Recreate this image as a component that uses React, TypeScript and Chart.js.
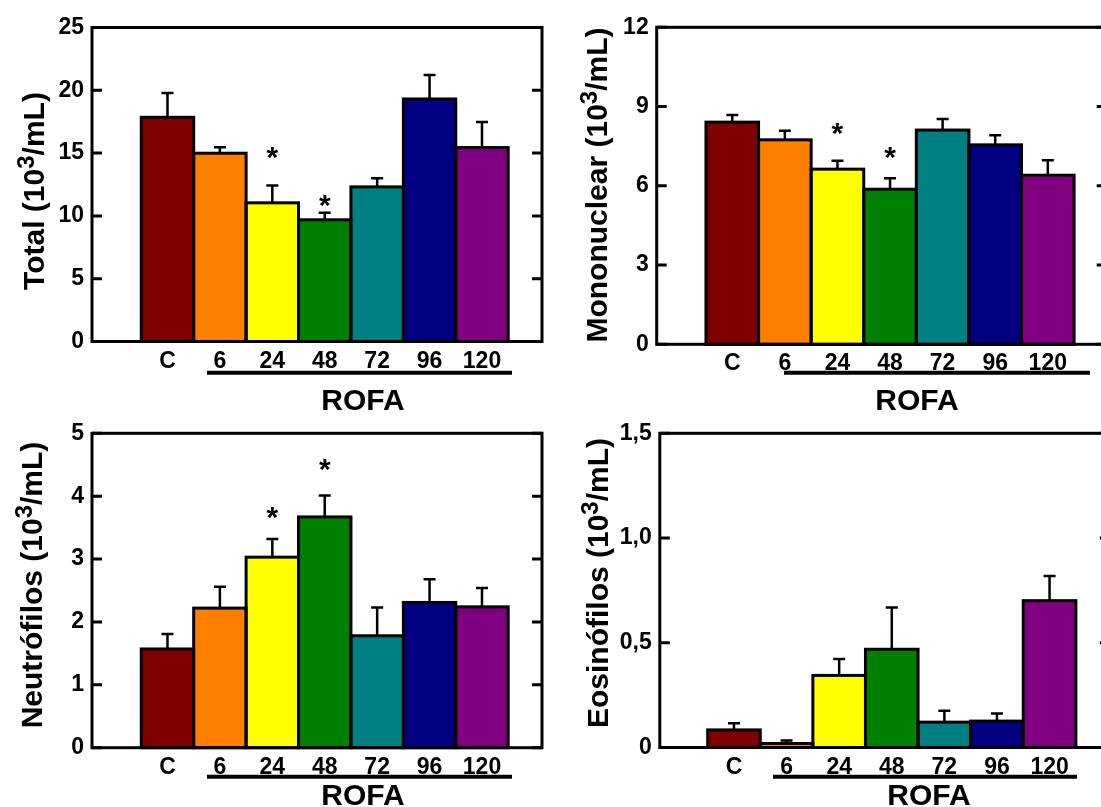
import React, { useEffect, useRef } from 'react';
import { Chart, registerables } from 'chart.js';

Chart.register(...registerables);

const FONT = '"Liberation Sans", Arial, Helvetica, sans-serif';

// ---------- data ----------
const categories = ['C', '6', '24', '48', '72', '96', '120'];
const barColors = ['#800000', '#FF8000', '#FFFF00', '#008000', '#008080', '#000080', '#800080'];
const groupLabel = 'ROFA';

const totalValues = [17.85, 14.99, 11.04, 9.69, 12.31, 19.31, 15.44];
const totalErrors = [1.93, 0.48, 1.38, 0.56, 0.69, 1.9, 2.04];
const totalStars = [null, null, 15.25, 11.45, null, null, null];
const totalTickLabels = ['0', '5', '10', '15', '20', '25'];

const monoValues = [8.41, 7.74, 6.63, 5.87, 8.11, 7.55, 6.4];
const monoErrors = [0.27, 0.34, 0.32, 0.42, 0.42, 0.36, 0.57];
const monoStars = [null, null, 8.26, 7.35, null, null, null];
const monoTickLabels = ['0', '3', '6', '9', '12'];

const neutroValues = [1.57, 2.22, 3.03, 3.67, 1.78, 2.31, 2.24];
const neutroErrors = [0.24, 0.34, 0.29, 0.34, 0.45, 0.37, 0.3];
const neutroStars = [null, null, 3.78, 4.55, null, null, null];
const neutroTickLabels = ['0', '1', '2', '3', '4', '5'];

const eosValues = [0.084, 0.019, 0.344, 0.469, 0.121, 0.126, 0.701];
const eosErrors = [0.032, 0.014, 0.079, 0.199, 0.054, 0.036, 0.118];
const eosStars = [null, null, null, null, null, null, null];
const eosTickLabels = ['0', '0,5', '1,0', '1,5'];

// ---------- layout ----------
type PanelCfg = {
  left: number; top: number; width: number; height: number;
  area: { left: number; top: number; right: number; bottom: number };
  xMin: number; xMax: number;
  yMax: number; yStep: number;
  values: number[]; errors: number[]; stars: (number | null)[]; tickLabels: string[];
  title: [string, string, string];
  titleX: number; titleY: number;
  underline: [number, number]; underlineY: number;
  groupX: number; groupY: number;
};

const panels: PanelCfg[] = [
  {
    left: 0, top: 0, width: 550, height: 410,
    area: { left: 92, top: 27.5, right: 542, bottom: 341.5 },
    xMin: -0.44, xMax: 8.145, yMax: 25, yStep: 5,
    values: totalValues, errors: totalErrors, stars: totalStars, tickLabels: totalTickLabels,
    title: ['Total (10', '3', '/mL)'], titleX: 33, titleY: 191,
    underline: [207, 512], underlineY: 372.7, groupX: 363, groupY: 399,
  },
  {
    left: 560, top: 0, width: 560, height: 410,
    area: { left: 96.7, top: 27.3, right: 546.7, bottom: 344.3 },
    xMin: -0.437, xMax: 8.12, yMax: 12, yStep: 3,
    values: monoValues, errors: monoErrors, stars: monoStars, tickLabels: monoTickLabels,
    title: ['Mononuclear (10', '3', '/mL)'], titleX: 36.5, titleY: 185,
    underline: [224, 530], underlineY: 372.7, groupX: 357, groupY: 399,
  },
  {
    left: 0, top: 410, width: 550, height: 397,
    area: { left: 92, top: 23.3, right: 542, bottom: 337.7 },
    xMin: -0.44, xMax: 8.145, yMax: 5, yStep: 1,
    values: neutroValues, errors: neutroErrors, stars: neutroStars, tickLabels: neutroTickLabels,
    title: ['Neutrófilos (10', '3', '/mL)'], titleX: 31, titleY: 175,
    underline: [207, 512], underlineY: 366.7, groupX: 363, groupY: 384,
  },
  {
    left: 560, top: 410, width: 560, height: 397,
    area: { left: 99.8, top: 23.3, right: 549.8, bottom: 337.5 },
    xMin: -0.41, xMax: 8.145, yMax: 1.5, yStep: 0.5,
    values: eosValues, errors: eosErrors, stars: eosStars, tickLabels: eosTickLabels,
    title: ['Eosinófilos (10', '3', '/mL)'], titleX: 37.4, titleY: 173,
    underline: [213, 517], underlineY: 366.7, groupX: 369, groupY: 384,
  },
];

const decoPlugin = {
  id: 'deco',
  afterDatasetsDraw(chart: any, _args: any, opts: any) {
    const ctx = chart.ctx;
    const meta = chart.getDatasetMeta(0);
    const ys = chart.scales.y;
    const values: number[] = opts.values;
    ctx.save();
    ctx.strokeStyle = '#000';
    ctx.lineWidth = 3;
    meta.data.forEach((el: any) => {
      const p = el.getProps(['x', 'y', 'base', 'width'], true);
      ctx.strokeRect(p.x - p.width / 2, p.y, p.width, p.base - p.y);
    });
    ctx.lineWidth = 2.5;
    meta.data.forEach((el: any, i: number) => {
      const p = el.getProps(['x', 'y'], true);
      const top = ys.getPixelForValue(values[i] + opts.errors[i]);
      ctx.beginPath();
      ctx.moveTo(p.x, p.y);
      ctx.lineTo(p.x, top);
      ctx.moveTo(p.x - 6, top);
      ctx.lineTo(p.x + 6, top);
      ctx.stroke();
    });
    ctx.fillStyle = '#000';
    ctx.font = `bold 30px ${FONT}`;
    ctx.textAlign = 'center';
    ctx.textBaseline = 'alphabetic';
    opts.stars.forEach((s: number | null, i: number) => {
      if (s == null) return;
      const x = meta.data[i].x;
      const yy = ys.getPixelForValue(s);
      ctx.fillText('*', x, yy + 17);
    });
    ctx.restore();
  },
  afterDraw(chart: any, _args: any, opts: any) {
    const ctx = chart.ctx;
    const a = chart.chartArea;
    const ys = chart.scales.y;
    ctx.save();
    ctx.strokeStyle = '#000';
    ctx.lineWidth = 3;
    ctx.strokeRect(a.left, a.top, a.right - a.left, a.bottom - a.top);
    ctx.beginPath();
    ys.ticks.forEach((t: any) => {
      const py = ys.getPixelForValue(t.value);
      ctx.moveTo(a.left, py);
      ctx.lineTo(a.left + 10, py);
      ctx.moveTo(a.right - 10, py);
      ctx.lineTo(a.right, py);
    });
    ctx.stroke();
    // group underline
    ctx.lineWidth = 4;
    ctx.beginPath();
    ctx.moveTo(opts.underline[0], opts.underlineY);
    ctx.lineTo(opts.underline[1], opts.underlineY);
    ctx.stroke();
    // group label
    ctx.fillStyle = '#000';
    ctx.font = `bold 30px ${FONT}`;
    ctx.textAlign = 'center';
    ctx.textBaseline = 'alphabetic';
    ctx.fillText(opts.group, opts.groupX, opts.groupY + 0.358 * 30);
    // y title with superscript
    const [t1, sup, t2] = opts.title;
    const main = `bold 30px ${FONT}`;
    const small = `bold 24px ${FONT}`;
    ctx.font = main;
    const w1 = ctx.measureText(t1).width;
    const w3 = ctx.measureText(t2).width;
    ctx.font = small;
    const w2 = ctx.measureText(sup).width;
    const total = w1 + w2 + w3;
    ctx.translate(opts.titleX, opts.titleY);
    ctx.rotate(-Math.PI / 2);
    ctx.textAlign = 'left';
    const base = 0.358 * 30;
    let x = -total / 2;
    ctx.font = main;
    ctx.fillText(t1, x, base);
    x += w1;
    ctx.font = small;
    ctx.fillText(sup, x, base - 10);
    x += w2;
    ctx.font = main;
    ctx.fillText(t2, x, base);
    ctx.restore();
  },
};

function Panel({ cfg }: { cfg: PanelCfg }) {
  const ref = useRef<HTMLCanvasElement>(null);
  useEffect(() => {
    if (!ref.current) return;
    const chart = new Chart(ref.current, {
      type: 'bar',
      data: {
        datasets: [
          {
            data: cfg.values.map((v, i) => ({ x: i + 1, y: v })) as any,
            backgroundColor: barColors,
            borderWidth: 0,
            barPercentage: 1,
            categoryPercentage: 1,
            inflateAmount: 0,
          } as any,
        ],
      },
      options: {
        animation: false,
        responsive: false,
        maintainAspectRatio: false,
        events: [],
        layout: {
          autoPadding: false,
          padding: { left: 0, top: cfg.area.top, right: cfg.width - cfg.area.right, bottom: 0 },
        },
        plugins: {
          legend: { display: false },
          tooltip: { enabled: false },
          deco: {
            values: cfg.values,
            errors: cfg.errors,
            stars: cfg.stars,
            title: cfg.title,
            titleX: cfg.titleX,
            titleY: cfg.titleY,
            underline: cfg.underline,
            underlineY: cfg.underlineY,
            group: groupLabel,
            groupX: cfg.groupX,
            groupY: cfg.groupY,
          },
        } as any,
        scales: {
          x: {
            type: 'linear',
            min: cfg.xMin,
            max: cfg.xMax,
            offset: false,
            grid: { display: false, drawTicks: false },
            border: { display: false },
            ticks: {
              stepSize: 1,
              includeBounds: false,
              autoSkip: false,
              maxRotation: 0,
              minRotation: 0,
              padding: 6,
              color: '#000',
              font: { family: FONT, size: 23, weight: 'bold' },
              callback: (v: any) => {
                const n = Number(v);
                return Number.isInteger(n) && n >= 1 && n <= categories.length ? categories[n - 1] : '';
              },
            },
            afterFit: (s: any) => {
              s.height = cfg.height - cfg.area.bottom;
            },
          } as any,
          y: {
            min: 0,
            max: cfg.yMax,
            grid: { display: false, drawTicks: false },
            border: { display: false },
            ticks: {
              stepSize: cfg.yStep,
              padding: 8,
              color: '#000',
              font: { family: FONT, size: 23, weight: 'bold' },
              callback: (_v: any, i: number) => cfg.tickLabels[i] ?? '',
            },
            afterFit: (s: any) => {
              s.width = cfg.area.left;
            },
          } as any,
        },
      },
      plugins: [decoPlugin as any],
    });
    return () => chart.destroy();
  }, [cfg]);
  return (
    <canvas
      ref={ref}
      width={cfg.width}
      height={cfg.height}
      style={{ position: 'absolute', left: cfg.left, top: cfg.top, width: cfg.width, height: cfg.height, display: 'block' }}
    />
  );
}

export default function App() {
  return (
    <div
      style={{
        position: 'fixed',
        left: 0,
        top: 0,
        width: 1101,
        height: 807,
        overflow: 'hidden',
        background: '#fff',
      }}
    >
      {panels.map((p, i) => (
        <Panel key={i} cfg={p} />
      ))}
    </div>
  );
}
